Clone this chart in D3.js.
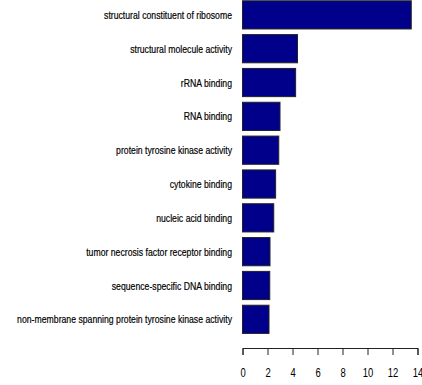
<!DOCTYPE html>
<html>
<head>
<meta charset="utf-8">
<script src="https://cdn.jsdelivr.net/npm/d3@7"></script>
<style>
  body { margin: 0; background: #fff; }
  text { font-family: "Liberation Sans", Arial, sans-serif; }
</style>
</head>
<body>
<svg id="chart"></svg>
<script>
// GO terms, top to bottom
var terms = [
  "structural constituent of ribosome",
  "structural molecule activity",
  "rRNA binding",
  "RNA binding",
  "protein tyrosine kinase activity",
  "cytokine binding",
  "nucleic acid binding",
  "tumor necrosis factor receptor binding",
  "sequence-specific DNA binding",
  "non-membrane spanning protein tyrosine kinase activity"
]

var scores = [13.5, 4.4, 4.25, 3.0, 2.9, 2.65, 2.5, 2.2, 2.18, 2.12]

var tickValues = [0, 2, 4, 6, 8, 10, 12, 14]

var width = 422
var height = 385

var svg = d3.select('#chart')
  .attr('width', width)
  .attr('height', height)

var x = d3.scaleLinear()
  .domain([0, 14])
  .range([242.5, 417.5])

// R barplot: width 1, space 0.2
var y = d3.scaleBand()
  .domain(terms)
  .range([-2.6, 336.8])
  .paddingInner(0.2 / 1.2)
  .paddingOuter(0.1)

var bars = svg.append('g').attr('class', 'bars')

bars.selectAll('rect')
  .data(terms)
  .enter()
  .append('rect')
  .attr('x', x(0))
  .attr('y', function (d) { return y(d) })
  .attr('width', function (d, i) { return x(scores[i]) - x(0) })
  .attr('height', y.bandwidth())
  .attr('fill', '#00008B')
  .attr('stroke', '#222')
  .attr('stroke-width', 1)

// category labels (the original font is condensed, so squeeze horizontally)
var labels = svg.append('g').attr('class', 'labels')
  .selectAll('text')
  .data(terms)
  .enter()
  .append('text')
  .attr('dy', '0.35em')
  .attr('text-anchor', 'end')
  .attr('font-size', 11.5)
  .attr('fill', '#000')
  .attr('stroke', '#000')
  .attr('stroke-width', 0.2)
  .text(function (d) { return d })

var longest = d3.max(labels.nodes(), function (n) { return n.getComputedTextLength() })
var squeeze = 215 / longest

labels.attr('transform', function (d) {
  return 'translate(232,' + (y(d) + y.bandwidth() / 2) + ') scale(' + squeeze + ',1)'
})

// x axis
var axis = svg.append('g')
  .attr('transform', 'translate(0,348)')
  .call(d3.axisBottom(x).tickValues(tickValues).tickSize(7).tickPadding(13).tickFormat(d3.format('d')))

axis.select('.domain').attr('stroke', '#222')
axis.selectAll('.tick line').attr('stroke', '#222')
axis.selectAll('.tick text')
  .attr('font-size', 12.5)
  .attr('fill', '#000')
  .attr('transform', 'scale(' + squeeze + ',1)')
  .style('font-family', '"Liberation Sans", Arial, sans-serif')
</script>
</body>
</html>
